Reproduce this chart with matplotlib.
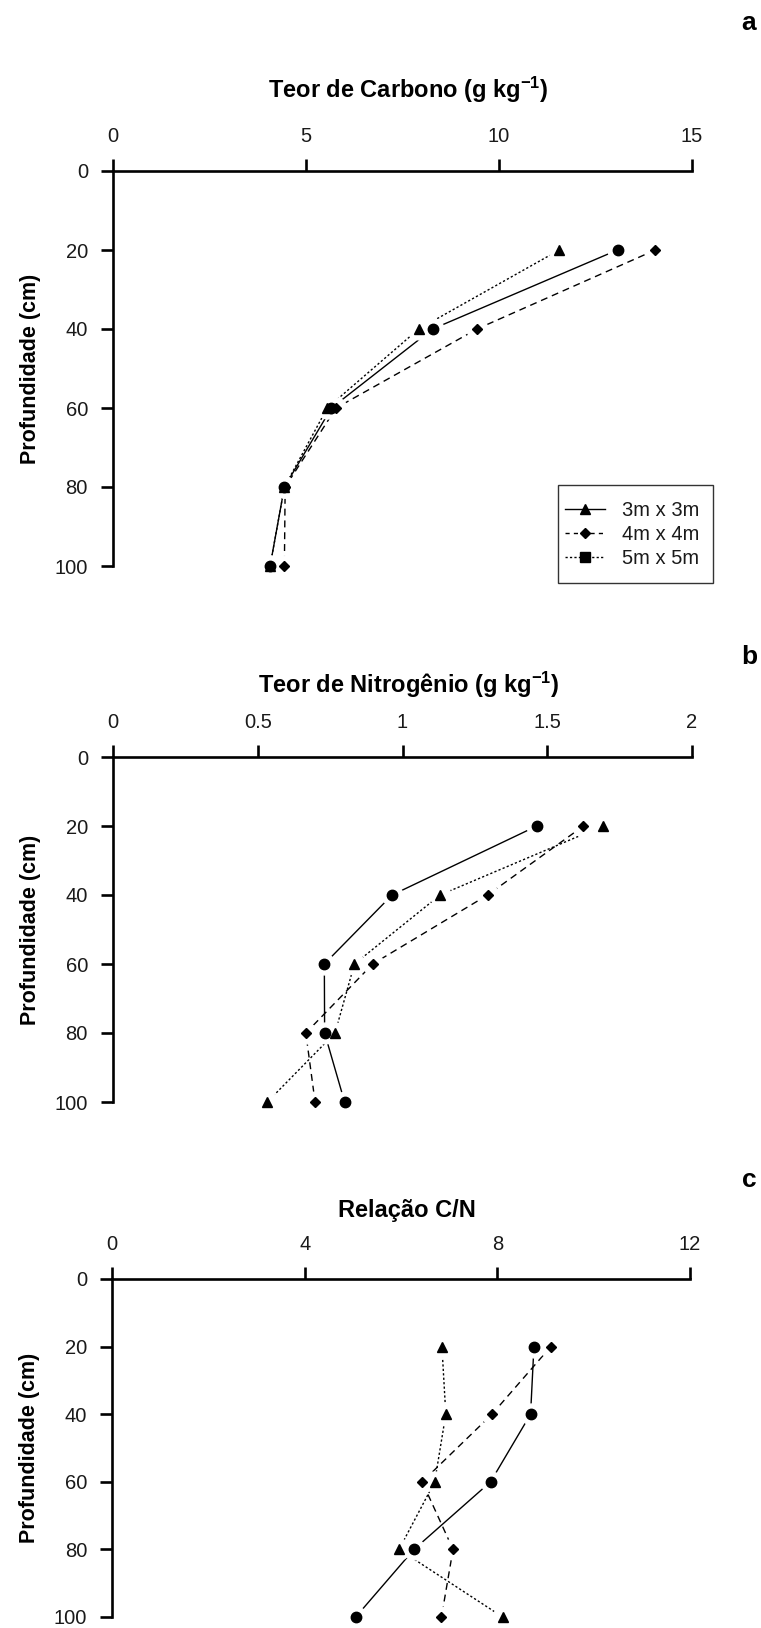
import matplotlib
matplotlib.use("Agg")
import matplotlib.pyplot as plt
from matplotlib.lines import Line2D
from matplotlib.patches import Rectangle

# ---- data -------------------------------------------------------------
depth = [20, 40, 60, 80, 100]                # Profundidade (cm)
depth_ticks = [0, 20, 40, 60, 80, 100]

# Teor de Carbono (g kg-1): series drawn with triangle / circle / diamond
carbono_tri = [11.56, 7.92, 5.55, 4.44, 4.07]
carbono_circ = [13.07, 8.28, 5.66, 4.44, 4.07]
carbono_diam = [14.05, 9.43, 5.78, 4.46, 4.44]
carbono_ticks = [0, 5, 10, 15]
carbono_ticklabels = ["0", "5", "10", "15"]

# Teor de Nitrogenio (g kg-1)
nitro_tri = [1.692, 1.13, 0.834, 0.767, 0.533]
nitro_circ = [1.464, 0.964, 0.73, 0.731, 0.80]
nitro_diam = [1.625, 1.294, 0.897, 0.666, 0.698]
nitro_ticks = [0, 0.5, 1, 1.5, 2]
nitro_ticklabels = ["0", "0.5", "1", "1.5", "2"]

# Relacao C/N
cn_tri = [6.85, 6.93, 6.70, 5.96, 8.11]
cn_circ = [8.76, 8.69, 7.86, 6.27, 5.06]
cn_diam = [9.11, 7.89, 6.44, 7.08, 6.84]
cn_ticks = [0, 4, 8, 12]
cn_ticklabels = ["0", "4", "8", "12"]

legend_labels = ["3m x 3m", "4m x 4m", "5m x 5m"]

# ---- style ------------------------------------------------------------
plt.rcParams["font.family"] = ["Liberation Sans", "DejaVu Sans"]
plt.rcParams["mathtext.fontset"] = "custom"
plt.rcParams["mathtext.rm"] = "Liberation Sans:bold"
plt.rcParams["mathtext.default"] = "rm"

W, H = 761, 1628
fig = plt.figure(figsize=(W / 100, H / 100), dpi=100)


def px_axes(x0, x1, y0, y1):
    """Axes from pixel box (top-left origin)."""
    return fig.add_axes([x0 / W, 1 - y1 / H, (x1 - x0) / W, (y1 - y0) / H])


DASHED = (0, (5, 3.5))
DOTTED = (0, (1.6, 1.6))
TXT = "#1a1a1a"


def panel(ax, tri, circ, diam, xmax, ticks, ticklabels, title, title_y, letter, letter_y):
    ax.set_xlim(0, xmax)
    ax.set_ylim(100, 0)
    for side in ("right", "bottom"):
        ax.spines[side].set_visible(False)
    for side in ("top", "left"):
        ax.spines[side].set_linewidth(1.9)
        ax.spines[side].set_capstyle("projecting")
    ax.xaxis.set_ticks_position("top")
    ax.set_xticks(ticks)
    ax.set_xticklabels(ticklabels)
    ax.set_yticks(depth_ticks)
    ax.tick_params(direction="out", length=9, width=1.9, labelsize=14.5,
                   pad=9, labelcolor=TXT)
    ax.set_ylabel("Profundidade (cm)", fontsize=15.5, fontweight="bold",
                  labelpad=10)

    series = [(tri, "^", 7.5, DOTTED), (circ, "o", 7.5, "-"), (diam, "D", 5.5, DASHED)]
    for vals, m, ms, ls in series:
        ax.plot(vals, depth, color="black", lw=1.0, linestyle=ls, zorder=2,
                clip_on=False)
    for vals, m, ms, ls in series:
        ax.plot(vals, depth, linestyle="none", marker="o", ms=15,
                color="white", zorder=3, clip_on=False)
    for vals, m, ms, ls in series:
        ax.plot(vals, depth, linestyle="none", marker=m, ms=ms,
                color="black", zorder=4, clip_on=False)

    bb = ax.get_position()
    xc = (bb.x0 + bb.x1) / 2 + 6 / W
    fig.text(xc, 1 - title_y / H, title, ha="center", va="center",
             fontsize=17, fontweight="bold", color="black")
    fig.text(749 / W, 1 - letter_y / H, letter, ha="center", va="center",
             fontsize=19, fontweight="bold", color="black")


ax_a = px_axes(113, 692, 171, 566)
panel(ax_a, carbono_tri, carbono_circ, carbono_diam, 15, carbono_ticks,
      carbono_ticklabels, r"Teor de Carbono (g kg$^{-1}$)", 90, "a", 23)

ax_b = px_axes(113, 692, 757, 1102)
panel(ax_b, nitro_tri, nitro_circ, nitro_diam, 2, nitro_ticks,
      nitro_ticklabels, r"Teor de Nitrogênio (g kg$^{-1}$)", 685, "b", 657)

ax_c = px_axes(112, 690, 1279, 1617)
panel(ax_c, cn_tri, cn_circ, cn_diam, 12, cn_ticks, cn_ticklabels,
      "Relação C/N", 1210, "c", 1180)

# legend of panel a: entries without frame, plus a plain box around them
handles = [
    Line2D([], [], color="black", lw=1.0, linestyle="-", marker="^", ms=7.5),
    Line2D([], [], color="black", lw=1.0, linestyle=(0, (3, 3)), marker="D", ms=5.5),
    Line2D([], [], color="black", lw=1.0, linestyle=(0, (1.6, 1.6)), marker="s", ms=6.5),
]
leg = ax_a.legend(handles, legend_labels, loc="upper left",
                  bbox_to_anchor=(565 / W, 1 - 501 / H),
                  bbox_transform=fig.transFigure, borderaxespad=0,
                  fontsize=14.5, frameon=False,
                  handlelength=2.0, handletextpad=0.85, labelspacing=0.26,
                  borderpad=0)
for t in leg.get_texts():
    t.set_color(TXT)
fig.patches.append(Rectangle((558 / W, 1 - 583 / H), 155 / W, 98 / H,
                             transform=fig.transFigure, fill=False,
                             edgecolor="#333333", linewidth=1.0))

fig.savefig("out.png", dpi=100, facecolor="white")
